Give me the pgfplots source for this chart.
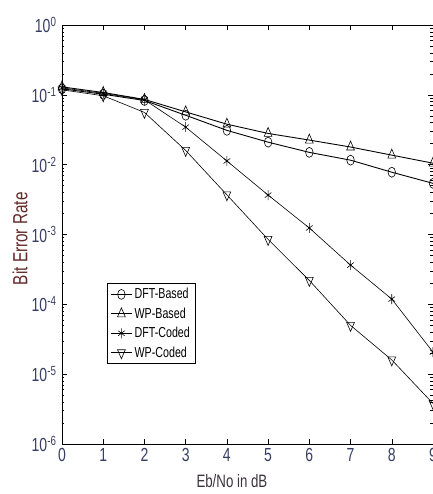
\documentclass[border=0pt]{standalone}
\usepackage{fontspec}
\setmainfont{Liberation Sans}[FakeStretch=0.74]
\newfontfamily\plainsans{Liberation Sans}
\usepackage{pgfplots}
\pgfplotsset{compat=1.18}
\definecolor{ticklab}{RGB}{55,62,100}
\definecolor{ylab}{RGB}{100,40,40}
\definecolor{xlab}{RGB}{60,50,60}
\begin{document}
\begin{tikzpicture}
\begin{semilogyaxis}[
  scale only axis,
  width=371bp, height=419bp,
  xmin=0, xmax=9, ymin=1e-6, ymax=1,
  xtick={0,1,2,3,4,5,6,7,8,9},
  xticklabels={0,1,2,3,4,5,6,7,8,9},
  ytick={1e-6,1e-5,1e-4,1e-3,1e-2,1e-1,1},
  yticklabels={{10\textsuperscript{-6}},{10\textsuperscript{-5}},{10\textsuperscript{-4}},{10\textsuperscript{-3}},{10\textsuperscript{-2}},{10\textsuperscript{-1}},{10\textsuperscript{0}}},
  tick align=inside,
  major tick length=5bp, minor tick length=2.5bp,
  every tick/.style={black, line width=0.5pt},
  axis line style={line width=0.7pt},
  tick label style={font=\fontsize{19}{21}\selectfont, text=ticklab},
  xticklabel style={yshift=-1bp},
  yticklabel style={xshift=-2bp},
  xlabel={Eb/No in dB},
  ylabel={Bit Error Rate},
  xlabel style={font=\fontsize{18}{20}\selectfont, text=xlab, at={(axis description cs:0.458,0)}, anchor=center, yshift=-37bp},
  ylabel style={font=\plainsans\fontsize{20.5}{22}\selectfont, text=ylab, at={(axis description cs:-0.113,0.49)}, anchor=center, xscale=0.75},
  legend style={at={(axis description cs:0.121,0.384)}, anchor=north west,
    font=\fontsize{14.5}{16}\selectfont, draw=black, line width=0.6pt,
    row sep=3.5bp, inner xsep=3bp, inner ysep=3bp, cells={anchor=west}},
  legend image code/.code={\draw[mark repeat=2,mark phase=2,#1] plot coordinates {(0cm,0cm) (0.38cm,0cm) (0.76cm,0cm)};},
  every axis plot/.append style={black},
]
\addplot[line width=0.9pt, mark=o, mark size=5bp, mark options={xscale=0.75, line width=0.6pt}]
coordinates {(0,0.122)(1,0.102)(2,0.083)(3,0.051)(4,0.031)(5,0.021)(6,0.015)(7,0.0116)(8,0.0078)(9,0.0054)};
\addlegendentry{DFT-Based}
\addplot[line width=0.9pt, mark=triangle, mark size=6bp, mark options={xscale=0.75, line width=0.6pt}]
coordinates {(0,0.13)(1,0.108)(2,0.086)(3,0.057)(4,0.038)(5,0.028)(6,0.0225)(7,0.0179)(8,0.0137)(9,0.0105)};
\addlegendentry{WP-Based}
\addplot[line width=0.6pt, mark=asterisk, mark size=5bp, mark options={xscale=0.75, line width=0.6pt}]
coordinates {(0,0.126)(1,0.105)(2,0.085)(3,0.0345)(4,0.0113)(5,0.00367)(6,0.00124)(7,3.65e-4)(8,1.19e-4)(9,2.07e-5)};
\addlegendentry{DFT-Coded}
\addplot[line width=0.6pt, mark=triangle, mark size=6bp, mark options={rotate=180, xscale=0.75, line width=0.6pt}]
coordinates {(0,0.118)(1,0.097)(2,0.056)(3,0.016)(4,0.0037)(5,8.5e-4)(6,2.2e-4)(7,5.0e-5)(8,1.6e-5)(9,3.8e-6)};
\addlegendentry{WP-Coded}
\end{semilogyaxis}
\pgfresetboundingbox
\path[use as bounding box] ([xshift=-62bp,yshift=-50bp]current axis.south west) rectangle ([yshift=25bp]current axis.north east);
\end{tikzpicture}
\end{document}
